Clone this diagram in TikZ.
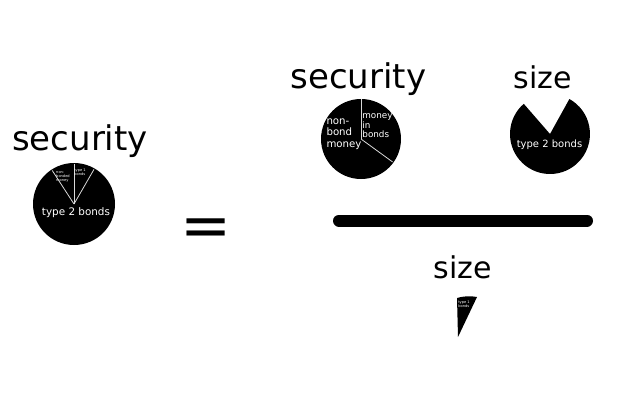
\documentclass[tikz,border=0pt]{standalone}
\usepackage{fontspec}
\setmainfont{DejaVu Sans}
\begin{document}
\begin{tikzpicture}[x=1pt, y=1pt,
    title/.style={font=\fontsize{34}{40}\selectfont, anchor=base, inner sep=0pt},
    sizetitle/.style={font=\fontsize{30}{36}\selectfont, anchor=base, inner sep=0pt},
    slicetext/.style={text=white, align=left, inner sep=0pt},
    cut/.style={draw=white!85!black, line width=0.8pt}]
    \useasboundingbox (0,0) rectangle (640,400);

    % Left side: security pie
    \node[title] (secleft) at (80, 250) {security};
    \coordinate (lc) at (74, 196);
    \fill[black] (lc) circle[radius=41];
    \draw[cut] (lc) -- ++(123:40);
    \draw[cut] (lc) -- ++(90:40);
    \draw[cut] (lc) -- ++(60:40);
    \node[slicetext, font=\fontsize{3.6}{4}\selectfont] (nonbonded) at (63, 223) {non-\\bonded\\money};
    \node[slicetext, font=\fontsize{3.6}{4}\selectfont] (typeonel) at (80, 227.5) {type 1\\bonds};
    \node[slicetext, font=\fontsize{10.4}{12}\selectfont] (typetwol) at (76, 187) {type 2 bonds};

    % Equals sign
    \node[font=\fontsize{61}{70}\selectfont, anchor=base, inner sep=0pt] (eq) at (206, 154) {=};

    % Numerator: security pie
    \node[title] (sectop) at (358.5, 312) {security};
    \coordinate (mc) at (361, 261);
    \fill[black] (mc) circle[radius=40];
    \draw[cut] (mc) -- ++(90:40);
    \draw[cut] (mc) -- ++(-36:39);
    \node[slicetext, font=\fontsize{10.2}{11.5}\selectfont] (nonbond) at (344, 266) {non-\\bond\\money};
    \node[slicetext, font=\fontsize{8.8}{9.5}\selectfont] (inbonds) at (377.5, 274) {money\\in\\bonds};

    % Numerator: size pie
    \node[sizetitle] (sizetop) at (542.5, 312) {size};
    \coordinate (rc) at (550, 266);
    \fill[black] (rc) -- ++(131:40) arc[start angle=131, end angle=421, radius=40] -- cycle;
    \node[slicetext, font=\fontsize{10}{12}\selectfont] (typetwor) at (549.5, 255) {type 2 bonds};

    % Fraction bar
    \coordinate (barl) at (339, 179.5);
    \coordinate (barr) at (587, 179.5);
    \draw[line width=12pt, line cap=round] (barl) -- (barr);

    % Denominator: size wedge
    \node[sizetitle] (sizebot) at (462.5, 122) {size};
    \coordinate (wapex) at (458, 63);
    \coordinate (wtl) at (457, 102);
    \coordinate (wtr) at (477, 103);
    \fill[black] (wapex) -- (wtl) to[bend left=12] (wtr) -- cycle;
    \node[slicetext, font=\fontsize{3.6}{4}\selectfont] (typeoneb) at (464, 96) {type 1\\bonds};
\end{tikzpicture}
\end{document}
